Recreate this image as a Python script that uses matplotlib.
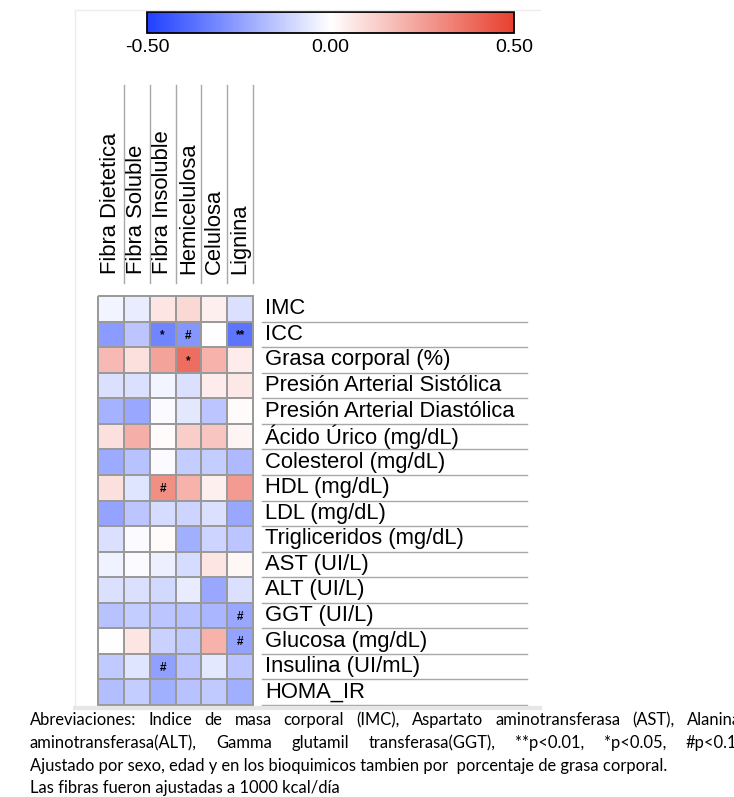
import matplotlib
matplotlib.use('Agg')
import matplotlib.pyplot as plt
import numpy as np
from matplotlib.colors import LinearSegmentedColormap
from matplotlib.lines import Line2D

plt.rcParams['font.family'] = ['Liberation Sans', 'DejaVu Sans']

# fibras (columnas) y variables (filas)
fibras = ['Fibra Dietetica', 'Fibra Soluble', 'Fibra Insoluble', 'Hemicelulosa', 'Celulosa', 'Lignina']
variables = ['IMC', 'ICC', 'Grasa corporal (%)', 'Presión Arterial Sistólica',
             'Presión Arterial Diastólica', 'Ácido Úrico (mg/dL)', 'Colesterol (mg/dL)',
             'HDL (mg/dL)', 'LDL (mg/dL)', 'Trigliceridos (mg/dL)', 'AST (UI/L)', 'ALT (UI/L)',
             'GGT (UI/L)', 'Glucosa (mg/dL)', 'Insulina (UI/mL)', 'HOMA_IR']

correlaciones = np.array([
    [-0.03, -0.05, 0.07, 0.10, 0.04, -0.08],
    [-0.26, -0.15, -0.32, -0.27, 0.00, -0.36],
    [0.18, 0.08, 0.24, 0.38, 0.20, 0.05],
    [-0.08, -0.08, -0.03, -0.08, 0.05, 0.06],
    [-0.20, -0.23, -0.01, -0.06, -0.15, 0.01],
    [0.08, 0.21, 0.01, 0.13, 0.15, 0.03],
    [-0.22, -0.16, -0.01, -0.13, -0.13, -0.18],
    [0.08, -0.07, 0.29, 0.20, 0.04, 0.26],
    [-0.24, -0.15, -0.09, -0.11, -0.08, -0.23],
    [-0.08, -0.01, 0.01, -0.21, -0.11, -0.15],
    [-0.035, -0.01, -0.04, -0.09, 0.07, 0.02],
    [-0.08, -0.08, -0.10, -0.05, -0.23, -0.08],
    [-0.16, -0.13, -0.15, -0.16, -0.19, -0.23],
    [0.00, 0.07, -0.12, -0.14, 0.20, -0.24],
    [-0.14, -0.07, -0.25, -0.15, -0.06, -0.15],
    [-0.17, -0.13, -0.21, -0.16, -0.14, -0.21],
])

# significancia: (fila, columna, simbolo)
significancia = [(1, 2, '*'), (1, 3, '#'), (1, 5, '**'), (2, 3, '*'),
                 (7, 2, '#'), (12, 5, '#'), (13, 5, '#'), (14, 2, '#')]

nota = [
    "Abreviaciones: Indice de masa corporal (IMC), Aspartato aminotransferasa (AST), Alanina",
    "aminotransferasa(ALT), Gamma glutamil transferasa(GGT), **p<0.01, *p<0.05, #p<0.1.",
    "Ajustado por sexo, edad y en los bioquimicos tambien por  porcentaje de grasa corporal.",
    "Las fibras fueron ajustadas a 1000 kcal/día",
]

W, H = 734, 797
fig = plt.figure(figsize=(W / 100, H / 100), dpi=100)


def fx(x):
    return x / W


def fy(y):
    return 1 - y / H


cmap = LinearSegmentedColormap.from_list('azul_rojo', ['#2040FF', '#FFFFFF', '#E8402F'])

# marco tenue de la imagen original
fig.add_artist(Line2D([fx(75), fx(540)], [fy(10), fy(10)], color='#ececec', lw=1))
fig.add_artist(Line2D([fx(75), fx(75)], [fy(10), fy(707)], color='#ececec', lw=1))
fig.add_artist(Line2D([fx(75), fx(540)], [fy(708), fy(708)], color='#e6e6e6', lw=3))

ax = fig.add_axes([fx(98), fy(705), fx(253) - fx(98), fy(296) - fy(705)])
mesh = ax.pcolormesh(correlaciones, cmap=cmap, vmin=-0.5, vmax=0.5,
                     edgecolors='#9a9a9a', linewidth=1.3)
mesh.set_clip_on(False)
ax.set_xlim(0, len(fibras))
ax.set_ylim(len(variables), 0)
ax.axis('off')

for i, j, s in significancia:
    ax.text(j + 0.5, i + 0.55, s, ha='center', va='center', fontsize=8.5,
            fontweight='bold', color='black')

cw = 155 / 6
rh = 409 / 16
for i, v in enumerate(variables):
    ax.text(6 + 12 / cw, i + 0.5, v, ha='left', va='center', fontsize=15.8, clip_on=False)
    ax.plot([6 + 9 / cw, 6 + 274 / cw], [i + 1, i + 1], color='#a8a8a8', lw=1, clip_on=False)

for j, f in enumerate(fibras):
    ax.text(j + 0.5, -22 / rh, f, rotation=90, ha='center', va='bottom', fontsize=15.8, clip_on=False)
    ax.plot([j + 1, j + 1], [-13 / rh, -211 / rh], color='#a8a8a8', lw=1, clip_on=False)

cax = fig.add_axes([fx(147), fy(33), fx(514) - fx(147), fy(12) - fy(33)])
cb = fig.colorbar(mesh, cax=cax, orientation='horizontal', ticks=[-0.5, 0, 0.5])
cb.ax.set_xticklabels(['-0.50', '0.00', '0.50'])
cb.ax.tick_params(length=0, labelsize=14, pad=4)
cb.outline.set_linewidth(1.3)

# nota al pie, las dos primeras lineas justificadas
fig.canvas.draw()
renderer = fig.canvas.get_renderer()
fuente = dict(family=['Lato', 'DejaVu Sans'], fontsize=10)
prueba = fig.text(0, 0, 'Abreviaciones:', **fuente)
ancho = prueba.get_window_extent(renderer).width
prueba.remove()
fuente['fontsize'] = 10 * 107 / ancho

bases = [725, 748, 771, 793]
x0, x1 = 30, 741
for k, linea in enumerate(nota):
    if k < 2:
        palabras = linea.split()
        anchos = []
        for p in palabras:
            t = fig.text(0, 0, p, **fuente)
            anchos.append(t.get_window_extent(renderer).width)
            t.remove()
        hueco = (x1 - x0 - sum(anchos)) / (len(palabras) - 1)
        x = x0
        for p, a in zip(palabras, anchos):
            fig.text(fx(x), fy(bases[k]), p, ha='left', va='baseline', **fuente)
            x += a + hueco
    else:
        fig.text(fx(x0), fy(bases[k]), linea, ha='left', va='baseline', **fuente)

fig.savefig('out.png', dpi=100)
